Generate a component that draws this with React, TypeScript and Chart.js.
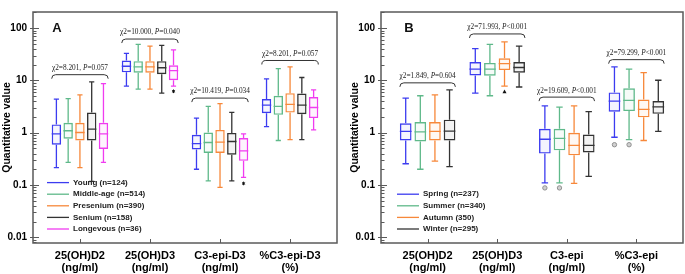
import React, { useEffect, useRef } from 'react';
import { Chart, registerables } from 'chart.js';

Chart.register(...registerables);
Chart.defaults.font.family = '"Liberation Sans", Arial, sans-serif';

// ---------- data ----------
const CATEGORIES_A = [['25(OH)D2', '(ng/ml)'], ['25(OH)D3', '(ng/ml)'], ['C3-epi-D3', '(ng/ml)'], ['%C3-epi-D3', '(%)']];
const CATEGORIES_B = [['25(OH)D2', '(ng/ml)'], ['25(OH)D3', '(ng/ml)'], ['C3-epi', '(ng/ml)'], ['%C3-epi', '(%)']];
const Y_TICKS = [0.01, 0.1, 1, 10, 100];

// each entry: [min, q1, median, q3, max] per category
const YOUNG = [[0.215, 0.59, 0.95, 1.44, 4.4], [7.8, 14.3, 18.7, 24.1, 32.9], [0.2, 0.48, 0.62, 0.91, 1.91], [1.31, 2.36, 3.36, 4.4, 10.7]];
const MIDDLE_AGE = [[0.27, 0.77, 1.09, 1.55, 4.5], [6.8, 14.1, 18.2, 23.4, 48.8], [0.12, 0.41, 0.65, 1.01, 3.2], [0.71, 2.2, 3.2, 5.1, 16.9]];
const PRESENIUM = [[0.215, 0.71, 1.01, 1.55, 5.3], [6.8, 14.1, 18.2, 23.4, 45.4], [0.09, 0.41, 0.66, 1.13, 3.6], [0.74, 2.43, 3.5, 5.7, 18.2]];
const SENIUM = [[0.117, 0.71, 1.17, 2.43, 9.4], [5.7, 13.2, 17.5, 23.4, 46.8], [0.12, 0.38, 0.68, 0.99, 2.46], [0.74, 2.26, 3.36, 5.6, 11.4]];
const LONGEVOUS = [[0.27, 0.49, 0.95, 1.55, 8.7], [7.8, 10.1, 15.4, 19.5, 38.4], [0.14, 0.29, 0.45, 0.79, 0.95], [1.13, 1.91, 3.04, 4.8, 6.6]];

const SPRING = [[0.255, 0.71, 1.06, 1.51, 4.58], [5.7, 12.5, 16.5, 22.5, 40.6], [0.11, 0.40, 0.75, 1.19, 3.27], [0.82, 2.53, 4.03, 5.9, 18.2]];
const SUMMER = [[0.2, 0.68, 1.04, 1.6, 5.1], [5.1, 12.3, 16.5, 21.6, 48.8], [0.11, 0.46, 0.78, 1.19, 3.1], [0.74, 2.6, 4.15, 7.1, 16.5]];
const AUTUMN = [[0.285, 0.71, 1.06, 1.6, 5.3], [7.8, 15.8, 20.9, 26.6, 54.7], [0.107, 0.37, 0.575, 1.0, 3.27], [0.71, 1.97, 2.8, 4.3, 14.1]];
const WINTER = [[0.225, 0.71, 1.07, 1.78, 6.6], [7.5, 14.1, 17.7, 22.5, 45.4], [0.146, 0.42, 0.575, 0.92, 2.53], [1.06, 2.3, 3.13, 4.03, 10.1]];

const LEGEND_A = ['Young (n=124)', 'Middle-age (n=514)', 'Presenium (n=390)', 'Senium (n=158)', 'Longevous (n=36)'];
const LEGEND_B = ['Spring (n=237)', 'Summer (n=340)', 'Autumn (350)', 'Winter (n=295)'];

const BRACKET_A = [12.9, 62, 4.6, 24.1];
const CHI_A = ['8.201', '10.000', '10.419', '8.201'];
const P_A = ['=0.057', '=0.040', '=0.034', '=0.057'];
const BRACKET_B = [9.0, 77.6, 4.8, 25];
const CHI_B = ['1.849', '71.993', '19.609', '79.299'];
const P_B = ['=0.604', '<0.001', '<0.001', '<0.001'];

const OUTLIERS_A = [
  { series: 4, cat: 1, value: 6.2, marker: 'star' },
  { series: 4, cat: 2, value: 0.107, marker: 'star' },
];
const OUTLIERS_B = [
  { series: 2, cat: 1, value: 6.1, marker: 'triangle' },
  { series: 0, cat: 2, value: 0.088, marker: 'circle' },
  { series: 1, cat: 2, value: 0.088, marker: 'circle' },
  { series: 0, cat: 3, value: 0.59, marker: 'circle' },
  { series: 1, cat: 3, value: 0.59, marker: 'circle' },
];

const BLUE = '#3c3cf0';
const GREEN = '#5fb98a';
const ORANGE = '#f7883a';
const BLACK = '#333333';
const MAGENTA = '#f03cf0';

const COLORS_A = [BLUE, GREEN, ORANGE, BLACK, MAGENTA];
const COLORS_B = [BLUE, GREEN, ORANGE, BLACK];

function tint(hex: string, a: number) {
  const n = parseInt(hex.slice(1), 16);
  return `rgba(${(n >> 16) & 255},${(n >> 8) & 255},${n & 255},${a})`;
}

// ---------- plugin ----------
const boxPlugin = {
  id: 'boxdecor',
  afterDatasetsDraw(chart: any, _args: any, opts: any) {
    const { ctx, chartArea: ca, scales } = chart;
    const x = scales.x;
    const y = scales.y;
    ctx.save();

    // whiskers + medians
    chart.data.datasets.forEach((ds: any, di: number) => {
      const meta = chart.getDatasetMeta(di);
      meta.data.forEach((bar: any, ci: number) => {
        const [mn, q1, md, q3, mx] = ds.stats[ci];
        const { x: bx, width: w } = bar.getProps(['x', 'width'], true);
        const cap = w * 0.55;
        const pMin = y.getPixelForValue(mn);
        const pQ1 = y.getPixelForValue(q1);
        const pMd = y.getPixelForValue(md);
        const pQ3 = y.getPixelForValue(q3);
        const pMax = y.getPixelForValue(mx);
        ctx.strokeStyle = ds.borderColor;
        ctx.lineWidth = 1.3;
        ctx.beginPath();
        ctx.moveTo(bx, pQ3);
        ctx.lineTo(bx, pMax);
        ctx.moveTo(bx - cap / 2, pMax);
        ctx.lineTo(bx + cap / 2, pMax);
        ctx.moveTo(bx, pQ1);
        ctx.lineTo(bx, pMin);
        ctx.moveTo(bx - cap / 2, pMin);
        ctx.lineTo(bx + cap / 2, pMin);
        ctx.moveTo(bx - w / 2, pMd);
        ctx.lineTo(bx + w / 2, pMd);
        ctx.stroke();
      });
    });

    // outliers
    opts.outliers.forEach((o: any) => {
      const el = chart.getDatasetMeta(o.series).data[o.cat];
      const px = el.x;
      const py = y.getPixelForValue(o.value);
      if (o.marker === 'circle') {
        ctx.beginPath();
        ctx.arc(px, py, 2.2, 0, Math.PI * 2);
        ctx.fillStyle = '#d0d0d0';
        ctx.fill();
        ctx.strokeStyle = '#909090';
        ctx.lineWidth = 1;
        ctx.stroke();
      } else if (o.marker === 'triangle') {
        ctx.beginPath();
        ctx.moveTo(px, py - 2.2);
        ctx.lineTo(px + 2, py + 1.6);
        ctx.lineTo(px - 2, py + 1.6);
        ctx.closePath();
        ctx.fillStyle = '#111';
        ctx.fill();
      } else {
        ctx.strokeStyle = '#111';
        ctx.lineWidth = 1;
        ctx.beginPath();
        for (let k = 0; k < 3; k++) {
          const a = (Math.PI / 3) * k + Math.PI / 2;
          ctx.moveTo(px - Math.cos(a) * 1.8, py - Math.sin(a) * 1.8);
          ctx.lineTo(px + Math.cos(a) * 1.8, py + Math.sin(a) * 1.8);
        }
        ctx.stroke();
      }
    });

    // brackets + statistics
    const nSets = chart.data.datasets.length;
    opts.brackets.forEach((bv: number, ci: number) => {
      const first = chart.getDatasetMeta(0).data[ci];
      const last = chart.getDatasetMeta(nSets - 1).data[ci];
      const x1 = first.x - first.width / 2;
      const x2 = last.x + last.width / 2;
      const yb = y.getPixelForValue(bv);
      ctx.strokeStyle = '#333';
      ctx.lineWidth = 1;
      ctx.beginPath();
      ctx.moveTo(x1, yb + 4);
      ctx.quadraticCurveTo(x1, yb, x1 + 4, yb);
      ctx.lineTo(x2 - 4, yb);
      ctx.quadraticCurveTo(x2, yb, x2, yb + 4);
      ctx.stroke();

      const fNorm = '7.3px "Liberation Serif", "Times New Roman", serif';
      const fIt = 'italic 7.3px "Liberation Serif", "Times New Roman", serif';
      const p1 = `\u03c72=${opts.chi[ci]}, `;
      const p2 = 'P';
      const p3 = opts.p[ci];
      ctx.font = fNorm;
      const w1 = ctx.measureText(p1).width;
      const w3 = ctx.measureText(p3).width;
      ctx.font = fIt;
      const w2 = ctx.measureText(p2).width;
      let tx = (x1 + x2) / 2 - (w1 + w2 + w3) / 2;
      const ty = yb - 6.5;
      ctx.fillStyle = '#222';
      ctx.textAlign = 'left';
      ctx.textBaseline = 'middle';
      ctx.font = fNorm;
      ctx.fillText(p1, tx, ty);
      tx += w1;
      ctx.font = fIt;
      ctx.fillText(p2, tx, ty);
      tx += w2;
      ctx.font = fNorm;
      ctx.fillText(p3, tx, ty);
    });

    // legend
    const labels: string[] = opts.legend;
    const rowH = 11.6;
    labels.forEach((lab, i) => {
      const ly = ca.bottom - 14 - (labels.length - 1 - i) * rowH;
      const ds = chart.data.datasets[i];
      ctx.strokeStyle = ds.borderColor;
      ctx.lineWidth = 1.3;
      ctx.beginPath();
      ctx.moveTo(ca.left + opts.legendX, ly);
      ctx.lineTo(ca.left + opts.legendX + 22, ly);
      ctx.stroke();
      ctx.fillStyle = '#222';
      ctx.font = 'bold 8px "Liberation Sans", Arial, sans-serif';
      ctx.textAlign = 'left';
      ctx.textBaseline = 'middle';
      ctx.fillText(lab, ca.left + opts.legendX + 26, ly);
    });

    // frame
    ctx.strokeStyle = '#5a5a5a';
    ctx.lineWidth = 1.5;
    ctx.strokeRect(ca.left, ca.top, ca.right - ca.left, ca.bottom - ca.top);

    // y ticks (major + minor, inside)
    ctx.strokeStyle = '#5a5a5a';
    ctx.lineWidth = 1;
    ctx.beginPath();
    Y_TICKS.forEach((v) => {
      const py = Math.round(y.getPixelForValue(v)) + 0.5;
      ctx.moveTo(ca.left - 3, py);
      ctx.lineTo(ca.left + 6, py);
    });
    [0.001, 0.01, 0.1, 1, 10, 100].forEach((d) => {
      for (let m = 2; m <= 9; m++) {
        const v = d * m;
        if (v <= y.min || v >= y.max) continue;
        const py = Math.round(y.getPixelForValue(v)) + 0.5;
        ctx.moveTo(ca.left, py);
        ctx.lineTo(ca.left + 3.5, py);
      }
    });
    // x ticks (inside)
    x.ticks.forEach((t: any) => {
      const px = Math.round(x.getPixelForValue(t.value)) + 0.5;
      ctx.moveTo(px, ca.bottom);
      ctx.lineTo(px, ca.bottom - 4);
    });
    ctx.stroke();

    // panel letter
    ctx.fillStyle = '#111';
    ctx.font = 'bold 13px "Liberation Sans", Arial, sans-serif';
    ctx.textAlign = 'center';
    ctx.textBaseline = 'middle';
    ctx.fillText(opts.letter, ca.left + opts.letterX, ca.top + 16);

    ctx.restore();
  },
};

// ---------- panel ----------
function makeConfig(p: any) {
  const datasets = p.series.map((s: number[][], si: number) => ({
    label: p.legend[si],
    data: s.map((st, ci) => ({ x: ci, y: [st[1], st[3]] })),
    stats: s,
    borderColor: p.colors[si],
    backgroundColor: tint(p.colors[si], 0.06),
    borderWidth: 1.4,
    borderSkipped: false,
    categoryPercentage: 0.84,
    barPercentage: 0.8,
  }));
  return {
    type: 'bar',
    data: { datasets },
    options: {
      animation: false,
      responsive: false,
      events: [],
      layout: { padding: { left: p.padLeft, right: p.padRight, top: 1, bottom: 0 } },
      plugins: {
        legend: { display: false },
        tooltip: { enabled: false },
        boxdecor: {
          outliers: p.outliers,
          brackets: p.brackets,
          chi: p.chi,
          p: p.p,
          legend: p.legend,
          legendX: p.legendX,
          letter: p.letter,
          letterX: p.letterX,
        },
      },
      scales: {
        x: {
          type: 'linear',
          min: -0.67,
          max: 3.67,
          offset: false,
          grid: { display: false, drawTicks: false },
          border: { display: false },
          afterBuildTicks: (s: any) => {
            s.ticks = p.categories.map((_: any, i: number) => ({ value: i }));
          },
          afterFit: (s: any) => {
            s.height = 31;
          },
          ticks: {
            autoSkip: false,
            maxRotation: 0,
            padding: 7,
            color: '#000',
            font: { size: 11, weight: 'bold', lineHeight: 1.07 },
            callback: (v: number) => p.categories[v],
          },
        },
        y: {
          type: 'logarithmic',
          min: 0.00777,
          max: 204,
          grid: { display: false, drawTicks: false },
          border: { display: false },
          afterBuildTicks: (s: any) => {
            s.ticks = Y_TICKS.map((v) => ({ value: v }));
          },
          afterFit: (s: any) => {
            s.width = 33;
          },
          ticks: {
            padding: 6,
            color: '#000',
            font: { size: 10, weight: 'bold' },
            callback: (v: number) => String(v),
          },
          title: {
            display: true,
            text: 'Quantitative value',
            color: '#000',
            font: { size: 10.5, weight: 'bold' },
            padding: { top: 1, bottom: 0 },
          },
        },
      },
    },
    plugins: [boxPlugin],
  };
}

function Panel(props: { left: number; width: number; panel: any }) {
  const ref = useRef<HTMLCanvasElement>(null);
  useEffect(() => {
    if (!ref.current) return;
    const chart = new Chart(ref.current, makeConfig(props.panel) as any);
    return () => chart.destroy();
  }, []);
  return (
    <canvas
      ref={ref}
      width={props.width}
      height={274}
      style={{ position: 'absolute', left: props.left, top: 0, width: props.width, height: 274 }}
    />
  );
}

const PANEL_A = {
  categories: CATEGORIES_A,
  series: [YOUNG, MIDDLE_AGE, PRESENIUM, SENIUM, LONGEVOUS],
  colors: COLORS_A,
  legend: LEGEND_A,
  outliers: OUTLIERS_A,
  brackets: BRACKET_A,
  chi: CHI_A,
  p: P_A,
  padLeft: 0,
  padRight: 3,
  legendX: 14,
  letter: 'A',
  letterX: 24,
};

const PANEL_B = {
  categories: CATEGORIES_B,
  series: [SPRING, SUMMER, AUTUMN, WINTER],
  colors: COLORS_B,
  legend: LEGEND_B,
  outliers: OUTLIERS_B,
  brackets: BRACKET_B,
  chi: CHI_B,
  p: P_B,
  padLeft: 8,
  padRight: 2,
  legendX: 16,
  letter: 'B',
  letterX: 28,
};

export default function App() {
  return (
    <div style={{ position: 'absolute', left: 0, top: 0, width: 685, height: 274, background: '#fff' }}>
      <Panel left={0} width={340} panel={PANEL_A} />
      <Panel left={340} width={345} panel={PANEL_B} />
    </div>
  );
}
